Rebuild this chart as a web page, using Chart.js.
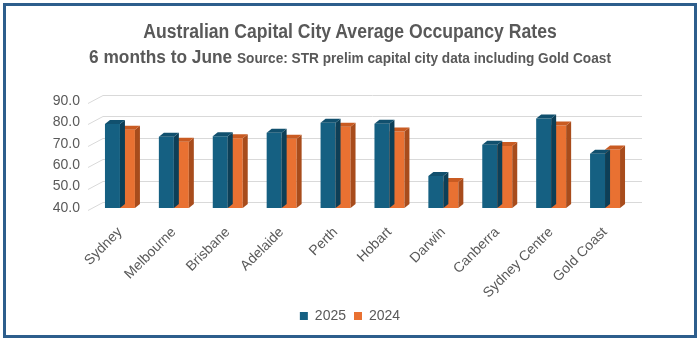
<!DOCTYPE html>
<html>
<head>
<meta charset="utf-8">
<script src="https://cdn.jsdelivr.net/npm/chart.js@4.4.1/dist/chart.umd.min.js"></script>
<style>
  html, body { margin: 0; padding: 0; background: #ffffff; }
  #wrap { position: relative; width: 700px; height: 342px; overflow: hidden; }
  #frame { position: absolute; left: 3px; top: 3px; width: 688px; height: 329px; border: 3px solid #2d5e8c; }
  .ttl { position: absolute; left: 0; width: 700px; text-align: center; color: #595959;
         font-family: 'Liberation Sans', Arial, sans-serif; font-weight: bold; white-space: nowrap;
         transform-origin: 350px 50%; }
  #t1 { top: 20px; font-size: 20px; transform: scaleX(0.88); }
  #t2 { top: 46px; font-size: 19px; transform: scaleX(0.91); }
  #t2 .src { font-size: 15px; }
  canvas { position: absolute; left: 0; top: 0; }
</style>
</head>
<body>
<div id="wrap">
  <canvas id="c" width="700" height="342"></canvas>
  <div id="frame"></div>
  <div class="ttl" id="t1">Australian Capital City Average Occupancy Rates</div>
  <div class="ttl" id="t2">6 months to June <span class="src">Source: STR prelim capital city data including Gold Coast</span></div>
</div>
<script>
const categories = ['Sydney', 'Melbourne', 'Brisbane', 'Adelaide', 'Perth', 'Hobart', 'Darwin', 'Canberra', 'Sydney Centre', 'Gold Coast'];
const values2025 = [79.3, 73.3, 73.5, 75.2, 79.8, 79.4, 55.0, 69.6, 81.8, 65.3];
const values2024 = [76.6, 71.0, 72.6, 72.4, 78.0, 75.7, 52.2, 69.0, 78.5, 67.3];
const seriesLabels = ['2025', '2024'];
const yTicks = [40, 50, 60, 70, 80, 90];

const FRONT = ['#156082', '#e97132'];
const SIDE = ['#0d3f57', '#a84c1c'];
const TOP = ['#11506e', '#c95b22'];
const BAR_DX = 5, BAR_DY = 4;
const WALL_DX = 10, WALL_DY = 6;

const depth3d = {
  id: 'depth3d',
  beforeDatasetsDraw(chart) {
    const ctx = chart.ctx;
    const { left, right } = chart.chartArea;
    const y = chart.scales.y;
    ctx.save();
    ctx.strokeStyle = '#d9d9d9';
    ctx.lineWidth = 1;
    y.ticks.forEach(t => {
      const py = Math.round(y.getPixelForValue(t.value)) + 0.5;
      ctx.beginPath();
      ctx.moveTo(left - 5, py + 2);
      ctx.lineTo(left + WALL_DX, py - WALL_DY);
      ctx.lineTo(right + WALL_DX, py - WALL_DY);
      ctx.stroke();
    });
    ctx.restore();
  },
  afterDatasetDraw(chart, args) {
    const ctx = chart.ctx;
    const i = args.index;
    const bottom = chart.chartArea.bottom;
    ctx.save();
    args.meta.data.forEach(bar => {
      const p = bar.getProps(['x', 'y', 'base', 'width'], true);
      const l = p.x - p.width / 2, r = p.x + p.width / 2;
      const b = Math.min(p.base, bottom);
      ctx.fillStyle = SIDE[i];
      ctx.beginPath();
      ctx.moveTo(r, p.y);
      ctx.lineTo(r + BAR_DX, p.y - BAR_DY);
      ctx.lineTo(r + BAR_DX, b - BAR_DY);
      ctx.lineTo(r, b);
      ctx.closePath();
      ctx.fill();
      ctx.fillStyle = TOP[i];
      ctx.beginPath();
      ctx.moveTo(l, p.y);
      ctx.lineTo(l + BAR_DX, p.y - BAR_DY);
      ctx.lineTo(r + BAR_DX, p.y - BAR_DY);
      ctx.lineTo(r, p.y);
      ctx.closePath();
      ctx.fill();
    });
    ctx.restore();
  }
};

new Chart(document.getElementById('c'), {
  type: 'bar',
  data: {
    labels: categories,
    datasets: [
      { label: seriesLabels[0], data: values2025, backgroundColor: FRONT[0], borderWidth: 0 },
      { label: seriesLabels[1], data: values2024, backgroundColor: FRONT[1], borderWidth: 0 }
    ]
  },
  options: {
    responsive: false,
    animation: false,
    datasets: { bar: { barPercentage: 1, categoryPercentage: 0.556 } },
    layout: { padding: { top: 101, left: 0, right: 0, bottom: 9 } },
    plugins: {
      title: { display: false },
      tooltip: { enabled: false },
      legend: {
        position: 'bottom',
        labels: { boxWidth: 8, boxHeight: 8, padding: 8, color: '#595959',
                  font: { family: "'Liberation Sans', Arial, sans-serif", size: 14 } }
      }
    },
    scales: {
      y: {
        min: 40, max: 90,
        afterBuildTicks: s => { s.ticks = yTicks.map(v => ({ value: v })); },
        afterFit: s => { s.width = 93; },
        grid: { display: false, drawTicks: false },
        border: { display: false },
        ticks: { padding: 13, color: '#595959', callback: v => Number(v).toFixed(1),
                 font: { family: "'Liberation Sans', Arial, sans-serif", size: 14 } }
      },
      yRight: {
        position: 'right',
        min: 40, max: 90,
        afterFit: s => { s.width = 68; },
        grid: { display: false, drawTicks: false },
        border: { display: false },
        ticks: { display: false }
      },
      x: {
        afterFit: s => { s.height = 93; },
        grid: { display: false, drawTicks: false },
        border: { display: false },
        ticks: { minRotation: 45, maxRotation: 45, padding: 16, color: '#595959', autoSkip: false,
                 font: { family: "'Liberation Sans', Arial, sans-serif", size: 14 } }
      }
    }
  },
  plugins: [depth3d]
});
</script>
</body>
</html>
